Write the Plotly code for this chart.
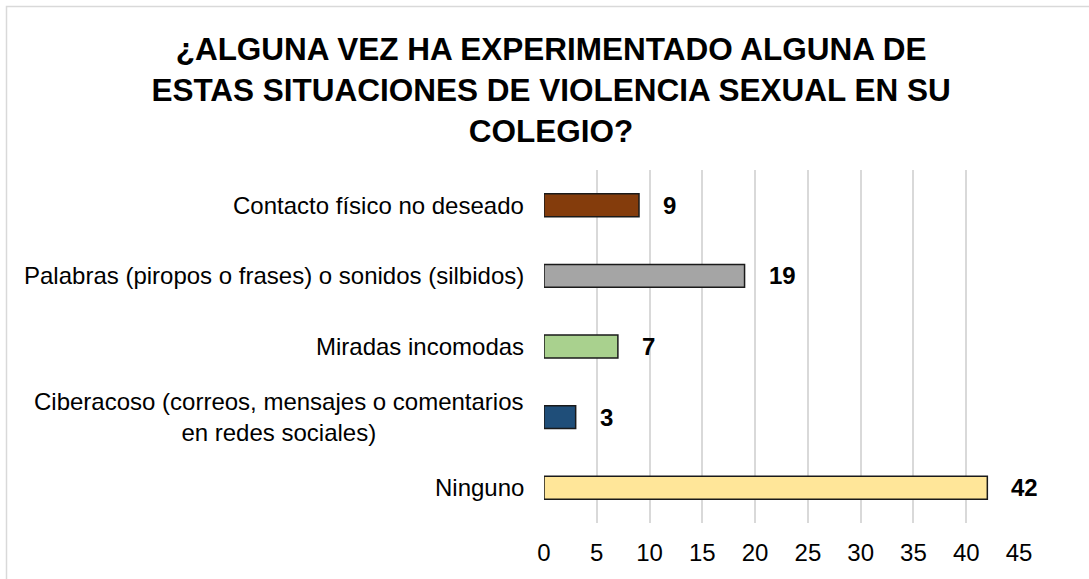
import plotly.graph_objects as go

categories = [
    "Contacto físico no deseado",
    "Palabras (piropos o frases) o sonidos (silbidos)",
    "Miradas incomodas",
    "Ciberacoso (correos, mensajes o comentarios<br>en redes sociales)",
    "Ninguno",
]
values = [9, 19, 7, 3, 42]
colors = ["#843C0C", "#A5A5A5", "#A9D18E", "#1F4E79", "#FFE699"]
x_ticks = [0, 5, 10, 15, 20, 25, 30, 35, 40, 45]
title_text = ("¿ALGUNA VEZ HA EXPERIMENTADO ALGUNA DE<br>"
              "ESTAS SITUACIONES DE VIOLENCIA SEXUAL EN SU<br>COLEGIO?")

FONT = "Liberation Sans, Arial, sans-serif"

fig = go.Figure()
fig.add_trace(go.Bar(
    x=values,
    y=categories,
    orientation="h",
    marker=dict(color=colors, line=dict(color="#1a1a1a", width=1.5)),
    hoverinfo="x+y",
))

# data labels
for c, v in zip(categories, values):
    fig.add_annotation(
        x=v, y=c, xref="x", yref="y", text=f"<b>{v}</b>", showarrow=False,
        xanchor="left", xshift=22, font=dict(family=FONT, size=24, color="#000000"),
    )

# category labels (centered multi-line, right anchored)
for c in categories:
    fig.add_annotation(
        x=0, y=c, xref="paper", yref="y", text=c, showarrow=False,
        xanchor="right", xshift=-18, align="center",
        font=dict(family=FONT, size=24, color="#000000"),
    )

# chart border
fig.add_shape(type="rect", xref="paper", yref="paper",
              x0=(6.5 - 544) / 475, x1=(1100 - 544) / 475,
              y0=(523 - 590) / 353, y1=(523 - 6.5) / 353,
              line=dict(color="#D9D9D9", width=1.5), fillcolor="rgba(0,0,0,0)",
              layer="below")

fig.update_layout(
    width=1089, height=579,
    margin=dict(l=544, r=70, t=170, b=56),
    paper_bgcolor="white", plot_bgcolor="white",
    showlegend=False,
    bargap=0.676,
    title=dict(text=f"<b>{title_text}</b>", xref="container", x=0.506, xanchor="center",
               yref="container", y=1 - 60 / 579, yanchor="top",
               font=dict(family=FONT, size=31.5, color="#000000")),
    font=dict(family=FONT, size=24, color="#000000"),
)
fig.update_xaxes(range=[0, 45], tickvals=x_ticks, showgrid=True, gridcolor="#D9D9D9",
                 gridwidth=1.5, zeroline=False, showline=False, ticks="",
                 ticklabelstandoff=13,
                 tickfont=dict(family=FONT, size=24, color="#000000"), fixedrange=True)
fig.update_yaxes(autorange="reversed", showticklabels=False, showgrid=False,
                 zeroline=False, showline=False, ticks="", fixedrange=True)

fig.write_html("out.html", config={"displayModeBar": False},
               post_script="document.body.style.margin='0';")
